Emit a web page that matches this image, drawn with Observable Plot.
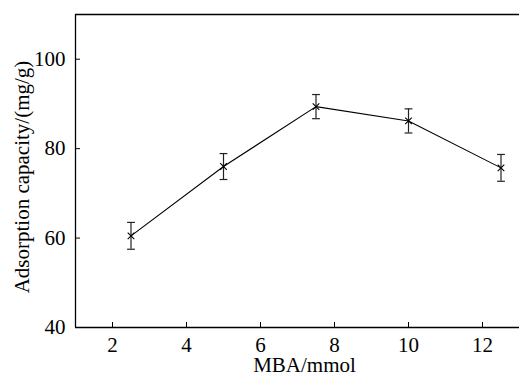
<!DOCTYPE html>
<html>
<head>
<meta charset="utf-8">
<script src="https://cdn.jsdelivr.net/npm/d3@7"></script>
<script src="https://cdn.jsdelivr.net/npm/@observablehq/plot@0.6"></script>
<style>
  html, body { margin: 0; padding: 0; background: #fff; }
</style>
</head>
<body>
<div id="chart"></div>
<script>
const mba = [2.5, 5, 7.5, 10, 12.5];
const capacity = [60.5, 76.0, 89.4, 86.2, 75.7];
const errorBar = [3.0, 2.9, 2.7, 2.7, 3.0];
const xTicks = [2, 4, 6, 8, 10, 12];
const yTicks = [40, 60, 80, 100];
const xLabel = "MBA/mmol";
const yLabel = "Adsorption capacity/(mg/g)";

const data = mba.map((x, i) => ({x, y: capacity[i], lo: capacity[i] - errorBar[i], hi: capacity[i] + errorBar[i]}));

const W = 519, H = 374, mL = 75, mR = 0, mT = 14, mB = 47;
const plotW = W - mL - mR, plotH = H - mT - mB;
const FS = 21;

const capSymbol = {
  draw(context, size) {
    const w = Math.sqrt(size);
    context.moveTo(-w, 0);
    context.lineTo(w, 0);
  }
};

const chart = Plot.plot({
  width: W,
  height: H,
  marginLeft: mL,
  marginRight: mR,
  marginTop: mT,
  marginBottom: mB,
  style: {fontFamily: "'Liberation Serif', 'Times New Roman', serif", fontSize: FS + "px", color: "#000", background: "#fff"},
  x: {domain: [1, 13]},
  y: {domain: [40, 110]},
  marks: [
    Plot.axisX(xTicks, {tickSize: 0, tickPadding: 10, label: null, fontSize: FS}),
    Plot.axisY(yTicks, {tickSize: 0, tickPadding: 10, label: null, fontSize: FS}),
    Plot.tickX(xTicks, {x: d => d, insetTop: plotH - 5, stroke: "#000", strokeWidth: 1}),
    Plot.tickY(yTicks, {y: d => d, insetRight: plotW - 5, stroke: "#000", strokeWidth: 1}),
    Plot.ruleY([40, 110], {stroke: "#000", strokeWidth: 1.3}),
    Plot.ruleX([1], {stroke: "#000", strokeWidth: 1.3}),
    Plot.ruleX(data, {x: "x", y1: "lo", y2: "hi", stroke: "#222", strokeWidth: 1.2}),
    Plot.dot(data, {x: "x", y: "lo", symbol: capSymbol, r: 2.2, stroke: "#222", strokeWidth: 1.2}),
    Plot.dot(data, {x: "x", y: "hi", symbol: capSymbol, r: 2.2, stroke: "#222", strokeWidth: 1.2}),
    Plot.line(data, {x: "x", y: "y", stroke: "#000", strokeWidth: 1.1}),
    Plot.dot(data, {x: "x", y: "y", symbol: "times", r: 3.1, stroke: "#000", strokeWidth: 1.1}),
    Plot.text([xLabel], {text: d => d, frameAnchor: "bottom", textAnchor: "middle", dx: 7, dy: 37.5, lineAnchor: "middle", fontSize: FS, fill: "#000"}),
    Plot.text([yLabel], {text: d => d, frameAnchor: "left", textAnchor: "middle", dx: -53.5, dy: 6, rotate: -90, lineAnchor: "middle", fontSize: FS, fill: "#000"})
  ]
});
document.getElementById("chart").appendChild(chart);
</script>
</body>
</html>
